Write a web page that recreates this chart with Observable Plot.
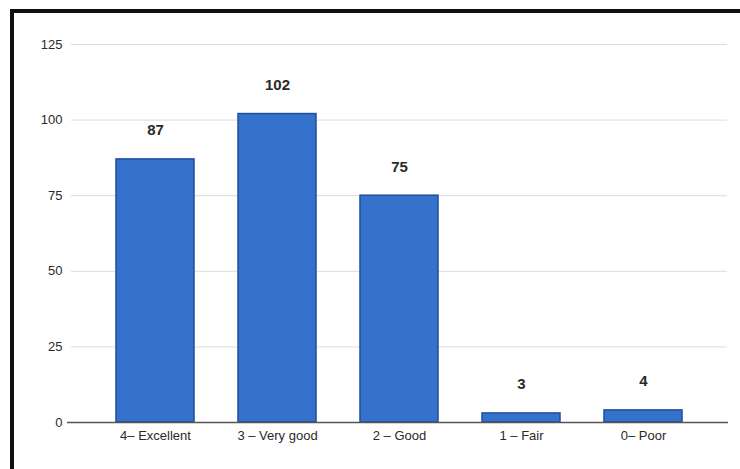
<!DOCTYPE html>
<html>
<head>
<meta charset="utf-8">
<script src="https://cdn.jsdelivr.net/npm/d3@7"></script>
<script src="https://cdn.jsdelivr.net/npm/@observablehq/plot@0.6"></script>
<style>
  html, body { margin: 0; padding: 0; background: #fff; }
  #wrap { position: relative; width: 740px; height: 469px; overflow: hidden; background: #fff; }
  #wrap svg { position: absolute; left: 0; top: 0; }
  .bl { position: absolute; left: 10px; top: 9px; width: 4px; height: 470px; background: #111; }
  .bt { position: absolute; left: 10px; top: 9px; width: 740px; height: 4px; background: #111; }
</style>
</head>
<body>
<div id="wrap"><div class="bl"></div><div class="bt"></div></div>
<script>
const categories = ["4– Excellent", "3 – Very good", "2 – Good", "1 – Fair", "0– Poor"];
const counts = [87, 102, 75, 3, 4];
const yTicks = [0, 25, 50, 75, 100, 125];

const data = categories.map((c, i) => ({category: c, count: counts[i]}));
const font = "'Liberation Sans Narrow', 'Liberation Sans', Arial, sans-serif";

const chart = Plot.plot({
  width: 740,
  height: 469,
  marginLeft: 71,
  marginRight: 13,
  marginTop: 44,
  marginBottom: 47,
  style: {fontFamily: font, fontSize: "13px", color: "#2a2a2a", background: "transparent"},
  x: {domain: categories, padding: 0.36, label: null, tickSize: 0, tickPadding: 9},
  y: {domain: [0, 125], ticks: yTicks, label: null, tickSize: 0, tickPadding: 9},
  marks: [
    Plot.gridY(yTicks, {stroke: "#dcdcdc", strokeOpacity: 1, strokeWidth: 1}),
    Plot.barY(data, {x: "category", y: "count", fill: "#3572cc", stroke: "#1f4e9e", strokeWidth: 1.5}),
    Plot.ruleY([0], {stroke: "#555", strokeWidth: 1.5, insetLeft: -4, insetRight: -1}),
    Plot.text(data, {x: "category", y: "count", text: d => String(d.count), dy: -29, fontWeight: "bold", fontSize: 15, fill: "#2a2a2a"}),
    Plot.axisX({tickSize: 0, tickPadding: 8, fontSize: 13, label: null}),
    Plot.axisY(yTicks, {tickSize: 0, tickPadding: 9, fontSize: 13, label: null})
  ]
});
document.getElementById("wrap").prepend(chart);
</script>
</body>
</html>
